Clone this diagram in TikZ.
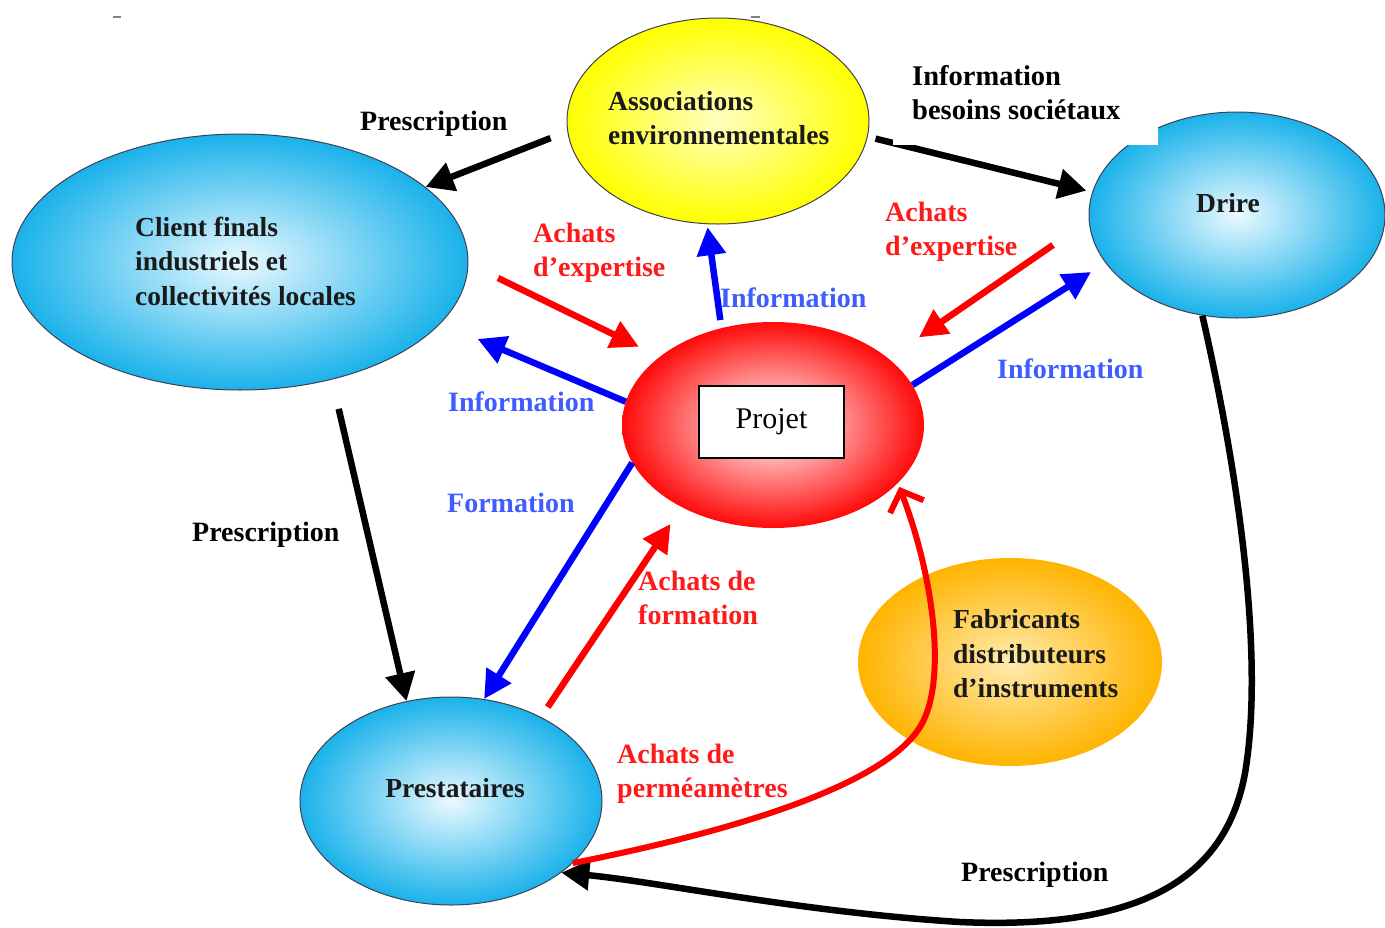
\documentclass[tikz,border=0pt]{standalone}
\usepackage{fontspec}
\setmainfont{Liberation Serif}
\usetikzlibrary{shapes.geometric,arrows.meta}
\definecolor{cyanO}{HTML}{1AB2EA}
\definecolor{cyanI}{HTML}{EAF9FF}
\definecolor{yelO}{HTML}{FFFF00}
\definecolor{yelI}{HTML}{FFFFC0}
\definecolor{redO}{HTML}{FF0A0A}
\definecolor{redI}{HTML}{FFFFFF}
\definecolor{oraO}{HTML}{FFB400}
\definecolor{oraI}{HTML}{FFEBB0}
\definecolor{edge}{HTML}{404050}
\definecolor{lblue}{HTML}{3F5CFF}
\definecolor{lred}{HTML}{FF1A1A}
\definecolor{etxt}{HTML}{1A1A1A}
\begin{document}
\begin{tikzpicture}[x=1pt,y=-1pt,
  ell/.style={ellipse, inner sep=0pt},
  etext/.style={font=\fontsize{27.5}{34.5}\selectfont\bfseries, text=etxt, inner sep=0pt, align=left},
  lbl/.style={font=\fontsize{28}{34}\selectfont\bfseries, inner sep=0pt, align=left, anchor=west},
  blkarr/.style={draw=black, line width=6.5pt, -{Triangle[length=28pt,width=29pt]}},
  bluarr/.style={draw=blue, line width=6.5pt, -{Triangle[length=28pt,width=28pt]}},
  redarr/.style={draw=red, line width=6.5pt, -{Triangle[length=28pt,width=28pt]}},
  redbarb/.style={draw=red, line width=6pt, -{Straight Barb[length=17pt,width=36pt,line width=6pt]}},
]
\useasboundingbox[fill=white] (0,0) rectangle (1385,927);
% stray marks
\draw[gray, line width=2pt] (113,17) -- (121,17);
\draw[gray, line width=2pt] (751,17) -- (760,17);

% ellipses
\node[ell, minimum width=302pt, minimum height=206pt, draw=edge, line width=1pt, inner color=yelI, outer color=yelO] (assoc) at (718,121) {};
\node[ell, minimum width=456pt, minimum height=256pt, draw=edge, line width=1pt, inner color=cyanI, outer color=cyanO] (client) at (240,262) {};
\node[ell, minimum width=296pt, minimum height=206pt, draw=edge, line width=1pt, inner color=cyanI, outer color=cyanO] (drire) at (1237,215) {};
\node[ell, minimum width=302pt, minimum height=206pt, inner color=redI, outer color=redO] (projet) at (773,425) {};
\node[ell, minimum width=304pt, minimum height=208pt, inner color=oraI, outer color=oraO] (fab) at (1010,662) {};
\node[ell, minimum width=302pt, minimum height=208pt, draw=edge, line width=1pt, inner color=cyanI, outer color=cyanO] (prest) at (451,801) {};

% ellipse texts
\node[etext, anchor=west] (assocT) at (608,118) {Associations\\environnementales};
\node[etext, anchor=west] (clientT) at (135,261) {Client finals\\industriels et\\collectivités locales};
\node[etext] (drireT) at (1228,203) {Drire};
\node[etext, anchor=west] (fabT) at (953,654) {Fabricants\\distributeurs\\d’instruments};
\node[etext] (prestT) at (455,788) {Prestataires};
\node[draw=black, line width=1.5pt, fill=white, minimum width=145pt, minimum height=72pt, inner sep=0pt, font=\fontsize{30}{36}\selectfont] (pbox) at (771.5,422) {Projet};

% black arrows
\draw[blkarr, shorten <=18pt] (assoc.184) -- (client.22);
\draw[blkarr, shorten <=8pt, shorten >=6pt] (assoc.-6) -- (drire.171);
\draw[blkarr, shorten <=30pt] (client.-52) -- (prest.114);
\draw[blkarr] (drire.-109) .. controls (1240,480) and (1262,650) .. (1247,760)
   .. controls (1232,880) and (1140,930) .. (960,922)
   .. controls (800,912) and (660,882) .. (prest.-33);

% blue arrows
\draw[bluarr, shorten <=8pt, shorten >=3pt] (projet.118) -- (assoc.-96);
\draw[bluarr, shorten >=40pt] (projet.171) -- (client.-17);
\draw[bluarr, shorten >=17pt] (projet.16) -- (drire.200);
\draw[bluarr] (projet.195) -- (prest.72);

% red arrows
\coordinate (e1) at (498,278);
\coordinate (e2) at (1053,245);
\draw[redarr, shorten >=23pt] (e1) -- (projet.149);
\draw[redarr, shorten >=37pt] (e2) -- (projet.30);
\draw[redarr, shorten <=12pt, shorten >=20pt] (prest.43) -- (projet.222);
\draw[redbarb, shorten >=4pt] (prest.-27) .. controls (740,830) and (880,785) .. (918,730)
   .. controls (948,688) and (935,580) .. (projet.-25);

% white box with label
\node[fill=white, anchor=north west, minimum width=265pt, minimum height=87pt, inner sep=0pt] (infobox) at (893,58) {};
\node[lbl, font=\fontsize{28.5}{34}\selectfont\bfseries] (infoT) at (912,93) {Information\\besoins sociétaux};

% labels
\node[lbl] (l1) at (360,124) {Prescription};
\node[lbl] (l2) at (192,535) {Prescription};
\node[lbl] (l3) at (961,875) {Prescription};
\node[lbl, text=lred] (l4) at (533,253) {Achats\\d’expertise};
\node[lbl, text=lred] (l5) at (885,232) {Achats\\d’expertise};
\node[lbl, text=lred] (l6) at (638,598) {Achats de\\formation};
\node[lbl, text=lred] (l7) at (617,774) {Achats de\\perméamètres};
\node[lbl, text=lblue] (l8) at (720,298) {Information};
\node[lbl, text=lblue] (l9) at (448,402) {Information};
\node[lbl, text=lblue] (l10) at (997,369) {Information};
\node[lbl, text=lblue] (l11) at (447,503) {Formation};
\end{tikzpicture}
\end{document}
